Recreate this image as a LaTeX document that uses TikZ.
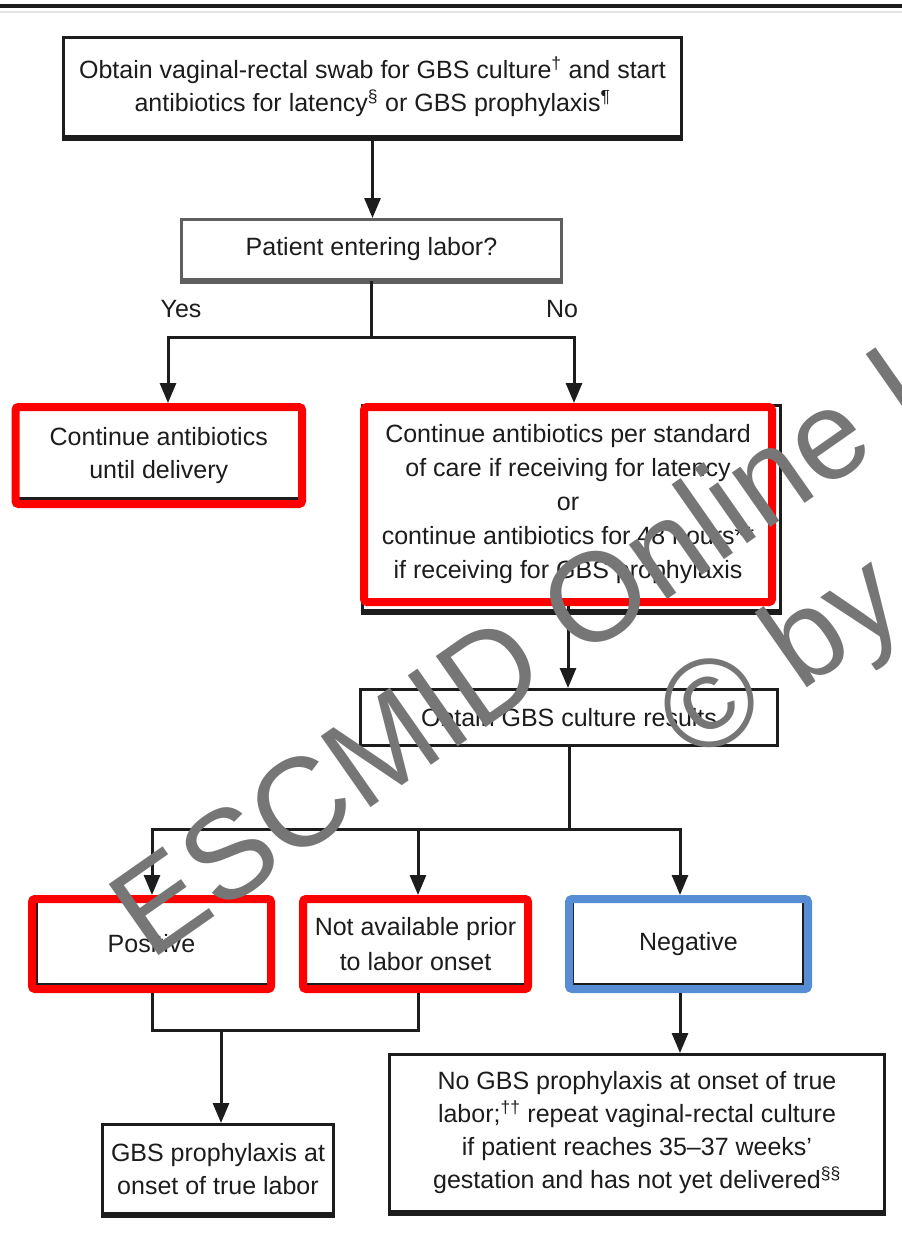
\documentclass[tikz,border=0pt]{standalone}
\usepackage{fontspec}
\setmainfont{Liberation Sans}
\usetikzlibrary{arrows.meta}
\definecolor{ink}{RGB}{28,28,28}
\definecolor{boxgray}{RGB}{95,95,95}
\definecolor{hlred}{RGB}{255,0,0}
\definecolor{hlblue}{RGB}{86,141,212}
\definecolor{wmgray}{RGB}{118,118,118}
\tikzset{
  txt/.style={font=\fontsize{25}{33}\selectfont, text=ink, align=center},
  plainbox/.style={draw=ink, line width=3pt, inner sep=0pt},
  flowbox/.style={plainbox, txt},
  redframe/.style={draw=hlred, line width=8pt, rounded corners=3pt, inner sep=0pt, txt},
  blueframe/.style={draw=hlblue, line width=8pt, rounded corners=3pt, inner sep=0pt, txt},
  link/.style={draw=ink, line width=3pt, line join=miter},
  tip/.tip={Triangle[length=20pt,width=16pt]},
  arr/.style={link, -tip},
  arrtwo/.style={link, tip-tip},
  baseedge/.style={line width=4.5pt, ink},
  wmark/.style={font=\fontsize{126}{145}\selectfont, text=wmgray, inner sep=0pt, anchor=base west, rotate=35}
}
\begin{document}
\begin{tikzpicture}[x=1pt,y=-1pt]
\useasboundingbox (0,0) rectangle (902,1235);
\clip (0,0) rectangle (902,1235);

% rule along the top of the panel
\draw[ink, line width=3.5pt] (0,6) -- (902,6);
\draw[gray!22, line width=2pt] (0,12) -- (902,12);

% first step
\node[flowbox, minimum width=618pt, minimum height=99pt] (swab) at (372.5,87)
  {Obtain vaginal-rectal swab for GBS culture\textsuperscript{†} and start\\
   antibiotics for latency\textsuperscript{§} or GBS prophylaxis\textsuperscript{¶}};

\node[flowbox, draw=boxgray, minimum width=380pt, minimum height=60pt] (labor) at (371.5,249.5)
  {Patient entering labor?};

\node[txt] (yes) at (181,309) {Yes};
\node[txt] (no) at (562,309) {No};

% left branch
\node[plainbox, minimum width=284pt, minimum height=90pt] (contbox) at (158,453) {};
\draw[baseedge] ([yshift=-0.5pt]contbox.south west) -- ([yshift=-0.5pt]contbox.south east);
\node[redframe, minimum width=286.5pt, minimum height=97pt] (cont) at (158.75,455.5)
  {Continue antibiotics\\until delivery};

% right branch
\node[plainbox, minimum width=418pt, minimum height=205pt] (stdbox) at (571,507.5) {};
\draw[baseedge] ([yshift=-1pt]stdbox.south west) -- ([yshift=-1pt]stdbox.south east);
\node[redframe, minimum width=408pt, minimum height=195pt, font=\fontsize{25}{34}\selectfont] (std) at (568,504.5)
  {Continue antibiotics per standard\\
   of care if receiving for latency\\
   or\\
   continue antibiotics for 48 hours**\\
   if receiving for GBS prophylaxis};

\node[flowbox, minimum width=417pt, minimum height=56pt] (results) at (569,717.5)
  {Obtain GBS culture results};

% culture outcomes
\node[plainbox, minimum width=234pt, minimum height=85pt] (posbox) at (153,941.5) {};
\node[redframe, minimum width=239pt, minimum height=90pt] (pos) at (151.5,944) {Positive};

\node[plainbox, minimum width=224pt, minimum height=85pt] (nabox) at (416,941.5) {};
\node[redframe, minimum width=225pt, minimum height=90pt, font=\fontsize{25}{35}\selectfont] (na) at (415.5,944)
  {Not available prior\\to labor onset};

\node[plainbox, minimum width=231pt, minimum height=85pt] (negbox) at (687.5,941.5) {};
\node[blueframe, minimum width=239pt, minimum height=90pt] (neg) at (688.5,944) {Negative};

% actions at labor
\node[flowbox, minimum width=231pt, minimum height=89pt] (gbs) at (218,1169)
  {GBS prophylaxis at\\onset of true labor};

\node[flowbox, minimum width=495pt, minimum height=157pt] (nogbs) at (637,1133)
  {No GBS prophylaxis at onset of true\\
   labor;\textsuperscript{††} repeat vaginal-rectal culture\\
   if patient reaches 35–37 weeks’\\
   gestation and has not yet delivered\textsuperscript{§§}};

% heavier lower edges of the plain boxes
\draw[baseedge] ([yshift=-1pt]swab.south west) -- ([yshift=-1pt]swab.south east);
\draw[baseedge, boxgray] ([yshift=-1pt]labor.south west) -- ([yshift=-1pt]labor.south east);
\draw[baseedge] ([yshift=-1pt]gbs.south west) -- ([yshift=-1pt]gbs.south east);
\draw[baseedge] ([yshift=-1pt]nogbs.south west) -- ([yshift=-1pt]nogbs.south east);

% connectors
\draw[arr] (swab.south) -- (swab.south |- labor.north);

\coordinate (qbus) at (371.5,337);
\coordinate (yesL) at (168,337);
\coordinate (noR) at (574,337);
\draw[link] (labor.south) -- (qbus);
\draw[arrtwo] (yesL |- cont.north) -- (yesL) -- (noR) -- (noR |- std.north);

\draw[arr] (std.south) -- (std.south |- results.north);

\coordinate (bL) at (152,829);
\coordinate (bM) at (418,829);
\coordinate (bR) at (680,829);
\draw[link] (results.south) -- (results.south |- bL);
\draw[arrtwo] (bL |- pos.north) -- (bL) -- (bR) -- (bR |- neg.north);
\draw[arr] (bM) -- (bM |- na.north);

\coordinate (jL) at (152,1030);
\coordinate (jR) at (418,1030);
\coordinate (jM) at (221,1030);
\draw[link] (jL |- pos.south) -- (jL) -- (jR) -- (jR |- na.south);
\draw[arr] (jM) -- (jM |- gbs.north);
\draw[arr] (bR |- neg.south) -- (bR |- nogbs.north);

% watermark
\node[wmark] (wmone) at (150,962) {ESCMID Online Lecture Library};
\node[wmark] (wmtwo) at (696,766) {© by author};
\end{tikzpicture}
\end{document}
